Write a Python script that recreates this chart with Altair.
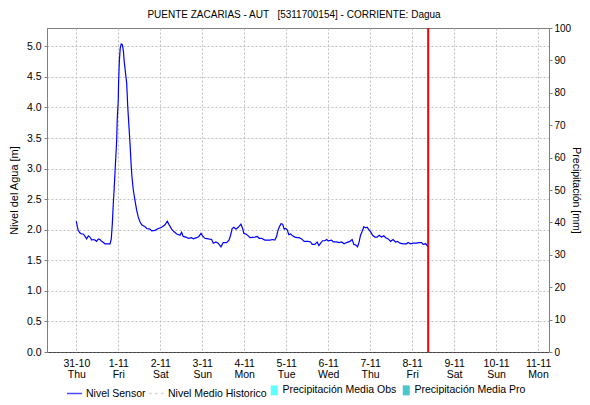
import altair as alt
import pandas as pd

FONT = "Liberation Sans"

title_text = "PUENTE ZACARIAS - AUT\u00a0\u00a0\u00a0[5311700154] - CORRIENTE: Dagua"
start = "2019-10-31T00:00"

# hours after 31-10 00:00 and water level [m]
hours = [0, 0.6, 1.1, 2, 3, 4, 5, 5.9, 6.9, 7.8, 8.8, 9.8, 10.7, 11.6, 12.6, 13.5, 14.5, 15.5, 16.4, 17.4, 19.3, 20.0,
         20.6, 21.1, 21.7, 22.1, 22.7, 23.1, 23.4, 24.0, 24.2, 24.6, 25.1, 25.7, 26.3, 26.9, 27.4, 28.8, 29.4, 30.1, 30.7,
         31.3, 31.8, 32.6, 33.5, 34.5, 35.4, 36.4, 37.4, 39.3, 40.2, 42.1, 43.1, 45.0, 46.9,
         48.8, 50.7, 52.0, 53.1, 54.5, 55.8, 57.4, 59.3, 60.2, 61.1, 62.7, 64.0, 65.9, 66.9, 68.8, 70.1,
         71.3, 72.2, 73.5, 75.4, 77.4, 78.3, 79.8, 81.1, 82.7, 84.0, 85.9, 87.3, 88.2, 89.1, 90.1, 91.3, 92.6, 94.1,
         95.1, 95.8, 97.0, 98.3, 99.3, 102.1, 103.4, 104.6, 105.9, 107.8, 110.7, 112.2, 113.5, 114.5, 115.3, 116.0, 117.0,
         118.0, 118.9, 119.7, 120.6, 121.5, 122.5, 123.7, 125.0, 126.3, 127.4, 128.8, 130.3, 132.6, 133.9, 134.9, 136.4,
         137.7, 138.7, 139.7, 140.8, 142.1, 143.1, 144.0, 145.9, 146.9, 148.8, 150.3, 151.7, 153.1, 154.5, 156.4, 157.7,
         158.7, 159.8, 160.8, 161.7, 162.5, 163.4, 164.4, 165.4, 166.3, 167.3, 168.4, 169.4, 170.7, 172.0, 173.1, 174.5,
         175.8, 176.9, 178.3, 179.7, 181.1, 182.5, 183.7, 185.0, 186.9, 188.8, 189.7, 191.1, 192.6, 194.5, 195.8, 197.4,
         198.3, 199.8, 201.1]
nivel = [2.14, 2.05, 1.99, 1.95, 1.93, 1.93, 1.89, 1.85, 1.90, 1.88, 1.83, 1.84, 1.83, 1.81, 1.85, 1.84, 1.81, 1.79, 1.77, 1.77, 1.77, 1.85,
         2.10, 2.40, 2.70, 2.92, 3.25, 3.47, 3.80, 4.13, 4.43, 4.75, 4.97, 5.04, 5.03, 4.93, 4.75, 4.40, 4.02, 3.69, 3.42,
         3.09, 2.87, 2.65, 2.49, 2.32, 2.21, 2.13, 2.08, 2.05, 2.02, 2.01, 1.98, 1.99, 2.02,
         2.04, 2.08, 2.14, 2.08, 2.01, 1.97, 1.93, 1.91, 1.96, 1.89, 1.88, 1.86, 1.87, 1.85, 1.87, 1.89,
         1.94, 1.90, 1.86, 1.85, 1.84, 1.78, 1.80, 1.78, 1.72, 1.79, 1.79, 1.83, 1.91, 2.02, 2.04, 2.01, 2.04, 2.09,
         2.02, 1.94, 1.93, 1.90, 1.87, 1.88, 1.89, 1.86, 1.86, 1.83, 1.83, 1.84, 1.83, 1.89, 1.99, 2.04, 2.10,
         2.09, 2.01, 2.02, 2.00, 1.92, 1.93, 1.90, 1.88, 1.87, 1.87, 1.85, 1.81, 1.81, 1.80, 1.76, 1.76,
         1.80, 1.74, 1.78, 1.82, 1.82, 1.84, 1.82, 1.83, 1.80, 1.80, 1.79, 1.80, 1.77, 1.79, 1.81, 1.84,
         1.76, 1.75, 1.72, 1.80, 1.91, 1.97, 2.05, 2.03, 2.04, 2.00, 1.96, 1.91, 1.88, 1.88, 1.91, 1.88,
         1.90, 1.87, 1.85, 1.81, 1.84, 1.80, 1.81, 1.78, 1.77, 1.77, 1.79, 1.77, 1.78, 1.78, 1.79, 1.79,
         1.76, 1.77, 1.72]
assert len(hours) == len(nivel)

corte = "2019-11-08T09:10"  # red "now" line

dias = ["2019-10-31", "2019-11-01", "2019-11-02", "2019-11-03", "2019-11-04", "2019-11-05",
        "2019-11-06", "2019-11-07", "2019-11-08", "2019-11-09", "2019-11-10", "2019-11-11"]
precip_obs = [0, 0, 0, 0, 0, 0, 0, 0, 0, 0, 0, 0]

line_series = ["Nivel Sensor", "Nivel Medio Historico"]
line_colors = ["#0000ff", "#c8c8c8"]
line_dash = [[1, 0], [3, 3]]
bar_series = ["Precipitación Media Obs", "Precipitación Media Pro"]
bar_colors = ["#5fffff", "#48c8c8"]

t0 = pd.Timestamp(start)
df = pd.DataFrame({"t": [t0 + pd.Timedelta(hours=h) for h in hours], "nivel": nivel})
dfp = pd.DataFrame({"dia": pd.to_datetime(dias), "obs": precip_obs})
dfr = pd.DataFrame({"t": [pd.Timestamp(corte)]})
dfl1 = pd.DataFrame({"serie": line_series})
dfl2 = pd.DataFrame({"serie2": bar_series})

xscale = alt.Scale(domain=[alt.DateTime(year=2019, month=10, date=30, hours=7, minutes=15),
                           alt.DateTime(year=2019, month=11, date=11, hours=6, minutes=15)],
                   padding=0, nice=False)
xaxis = alt.Axis(
    values=[alt.DateTime(year=int(d[:4]), month=int(d[5:7]), date=int(d[8:10])) for d in dias],
    labelExpr="[timeFormat(datum.value, '%-d-%m'), timeFormat(datum.value, '%a')]",
    labelAngle=0, labelFontSize=10.5, labelLineHeight=11, labelPadding=6, labelColor="black",
    ticks=False, domainColor="black", domainDash=[1, 1], domainWidth=1,
    grid=True, gridDash=[2, 2], gridColor="#bebebe", title=None,
)

line = alt.Chart(df).mark_line(color="#0000ff", strokeWidth=1.2).encode(
    x=alt.X("t:T", scale=xscale, axis=xaxis),
    y=alt.Y("nivel:Q", scale=alt.Scale(domain=[0, 5.3], nice=False),
            axis=alt.Axis(values=[0, 0.5, 1, 1.5, 2, 2.5, 3, 3.5, 4, 4.5, 5], format=".1f",
                          grid=True, gridDash=[2, 2], gridColor="#bebebe",
                          domainColor="#808080", tickColor="#808080", tickSize=3,
                          labelFontSize=10.5, labelColor="black", labelPadding=3,
                          title="Nivel del Agua [m]", titleFontSize=11, titleFontWeight="normal",
                          titleColor="black", titlePadding=7)),
)

precip = alt.Chart(dfp).mark_line(color="#5fffff", opacity=0).encode(
    x=alt.X("dia:T", scale=xscale),
    y=alt.Y("obs:Q", scale=alt.Scale(domain=[0, 100], nice=False),
            axis=alt.Axis(orient="right", values=list(range(0, 101, 10)), grid=False,
                          domainColor="#808080", tickColor="#808080", tickSize=3,
                          labelFontSize=10, labelColor="black", labelPadding=2,
                          title="Precipitación [mm]", titleFontSize=10.5, titleFontWeight="normal",
                          titleColor="black", titleAngle=90, titlePadding=0)),
)

rule = alt.Chart(dfr).mark_rule(color="#ff0000", strokeWidth=2).encode(x=alt.X("t:T", scale=xscale))

leg1 = alt.Chart(dfl1).transform_filter("false").mark_point(size=225, strokeWidth=1.3).encode(
    stroke=alt.Stroke("serie:N", scale=alt.Scale(domain=line_series, range=line_colors), title=None,
                      legend=alt.Legend(orient="none", direction="horizontal", columns=2,
                                        legendX=19, legendY=357, symbolType="M-1,0H1", symbolSize=225,
                                        symbolStrokeWidth=1.3, labelFontSize=10.5, labelColor="black",
                                        columnPadding=0, labelOffset=3, padding=0)),
    strokeDash=alt.StrokeDash("serie:N", scale=alt.Scale(domain=line_series, range=line_dash), title=None),
)

leg2 = alt.Chart(dfl2).transform_filter("false").mark_point(size=49, filled=True, opacity=1).encode(
    fill=alt.Fill("serie2:N", scale=alt.Scale(domain=bar_series, range=bar_colors), title=None,
                  legend=alt.Legend(orient="none", direction="horizontal", columns=2,
                                    legendX=222, legendY=357, symbolType="M-1,-1.43H1V1.43H-1Z", symbolSize=49,
                                    symbolStrokeWidth=0, labelFontSize=10.5, labelColor="black",
                                    columnPadding=4, labelOffset=3, padding=0)),
)

chart = alt.layer(line, precip, rule, leg1, leg2).resolve_scale(y="independent").properties(
    width=502, height=324,
    title=alt.TitleParams(title_text, fontSize=10, font=FONT, fontWeight="normal", color="black",
                          anchor="middle", offset=3, dx=-4),
    padding={"left": 39, "top": 20, "right": 33, "bottom": 45},
    autosize=alt.AutoSizeParams(type="none"),
).configure(font=FONT).configure_view(stroke="#808080", strokeWidth=1)

chart.save("out.html", embed_options={"renderer": "svg", "actions": False})
